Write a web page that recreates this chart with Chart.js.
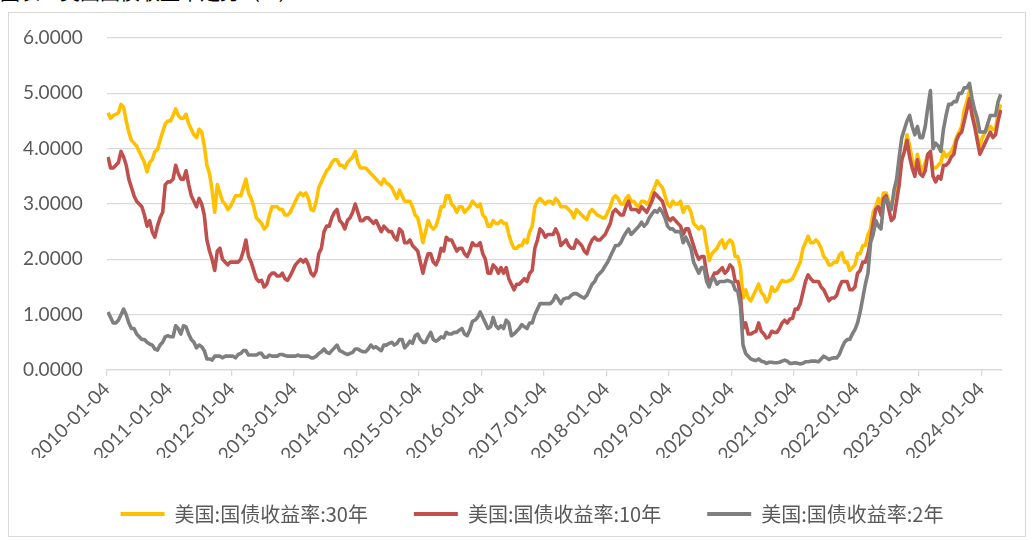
<!DOCTYPE html>
<html>
<head>
<meta charset="utf-8">
<script src="https://cdn.jsdelivr.net/npm/chart.js@4.4.1/dist/chart.umd.min.js"></script>
<style>
  html, body { margin: 0; padding: 0; background: #ffffff; overflow: hidden; }
  #wrap { position: relative; width: 1032px; height: 540px; overflow: hidden; }
  #frame { position: absolute; left: 8px; top: 12px; width: 1018px; height: 525px; border: 1px solid #D9D9D9; box-sizing: border-box; }
  #cut { position: absolute; left: 0px; top: -23px; font: 20px "Noto Sans CJK SC"; color: #000; white-space: nowrap; }
  #c { position: absolute; left: 0; top: 0; }
</style>
</head>
<body>
<div id="wrap">
  <div id="cut">图表：美国国债收益率走势（%）</div>
  <div id="frame"></div>
  <canvas id="c" width="1064" height="540"></canvas>
</div>
<script>
// Year tick labels (one per year, first trading day)
const yearLabels = ['2010-01-04','2011-01-04','2012-01-04','2013-01-04','2014-01-04','2015-01-04','2016-01-04',
  '2017-01-04','2018-01-04','2019-01-04','2020-01-04','2021-01-04','2022-01-04','2023-01-04','2024-01-04'];

const seriesNames = ['美国:国债收益率:30年', '美国:国债收益率:10年', '美国:国债收益率:2年'];

// Semi-monthly readings, Jan 2010 .. Apr 2024 (two values per month)
const yield30 = [
  4.65,4.55,4.6,4.62,4.65,4.8,4.75,4.5,4.3,4.15,4.1,4.05,3.95,3.85,3.75,3.58,3.75,3.8,3.95,3.98,4.15,4.3,4.45,4.5,
  4.5,4.6,4.72,4.6,4.55,4.55,4.62,4.45,4.35,4.25,4.2,4.35,4.3,4.05,3.7,3.55,3.25,2.85,3.35,3.2,3.05,3.0,2.9,2.95,
  3.05,3.15,3.15,3.15,3.3,3.45,3.2,3.1,2.95,2.75,2.7,2.65,2.55,2.6,2.8,2.95,2.95,2.95,2.9,2.9,2.8,2.8,2.85,2.95,
  3.05,3.15,3.2,3.15,3.2,3.1,2.9,2.88,3.05,3.3,3.4,3.5,3.6,3.65,3.75,3.8,3.8,3.7,3.7,3.65,3.75,3.8,3.85,3.95,
  3.75,3.65,3.65,3.65,3.6,3.55,3.5,3.45,3.4,3.35,3.45,3.38,3.35,3.3,3.2,3.1,3.25,3.15,3.05,3.05,3.05,2.95,2.8,2.75,
  2.55,2.3,2.5,2.7,2.6,2.55,2.6,2.75,2.95,2.95,3.15,3.15,3.0,2.95,2.85,2.95,2.95,2.85,2.9,2.95,3.05,3.0,2.95,3.0,
  2.8,2.75,2.6,2.6,2.7,2.65,2.65,2.7,2.65,2.65,2.45,2.3,2.2,2.2,2.25,2.25,2.35,2.3,2.5,2.6,2.95,3.05,3.1,3.05,
  3.0,3.05,3.05,3.0,3.1,3.05,2.95,2.95,2.95,2.9,2.85,2.75,2.9,2.85,2.8,2.75,2.72,2.85,2.9,2.85,2.8,2.78,2.75,2.75,
  2.85,2.95,3.1,3.15,3.1,3.0,3.0,3.1,3.15,3.05,3.05,2.98,2.95,3.05,3.05,3.0,3.05,3.2,3.3,3.42,3.35,3.3,3.15,3.0,
  2.95,3.05,3.0,3.0,3.05,2.85,2.95,2.95,2.85,2.65,2.6,2.55,2.6,2.55,2.25,1.98,2.1,2.15,2.2,2.3,2.35,2.2,2.3,2.35,
  2.3,2.05,2.05,1.85,1.3,1.45,1.3,1.25,1.35,1.45,1.55,1.4,1.35,1.23,1.3,1.5,1.42,1.45,1.55,1.62,1.6,1.6,1.62,1.65,
  1.75,1.85,1.95,2.2,2.3,2.42,2.3,2.3,2.35,2.3,2.2,2.05,2.0,1.9,1.9,1.95,1.95,2.08,2.12,1.95,1.95,1.8,1.85,1.9,
  2.1,2.1,2.25,2.25,2.45,2.55,2.85,2.95,3.1,3.0,3.2,3.2,3.05,3.0,3.15,3.25,3.5,3.8,3.95,4.25,4.05,3.8,3.6,3.9,
  3.7,3.6,3.75,3.9,3.9,3.65,3.65,3.7,3.75,3.95,3.85,3.9,3.95,4.05,4.2,4.3,4.4,4.7,4.85,5.05,4.65,4.5,4.2,4.05,
  4.2,4.3,4.35,4.4,4.35,4.35,4.65,4.8
];

const yield10 = [
  3.85,3.65,3.65,3.7,3.75,3.95,3.85,3.7,3.45,3.3,3.15,3.05,3.0,2.95,2.8,2.6,2.7,2.5,2.4,2.6,2.75,2.85,3.35,3.4,
  3.4,3.45,3.7,3.55,3.45,3.45,3.6,3.35,3.15,3.05,2.95,3.1,3.0,2.8,2.35,2.15,2.0,1.8,2.15,2.2,2.0,1.95,1.9,1.95,
  1.95,1.95,1.95,2.0,2.15,2.35,2.05,1.95,1.8,1.65,1.6,1.62,1.5,1.55,1.7,1.75,1.75,1.7,1.7,1.75,1.65,1.62,1.7,1.8,
  1.9,1.95,2.0,1.95,2.0,1.9,1.75,1.7,1.8,2.1,2.2,2.5,2.6,2.6,2.75,2.85,2.9,2.7,2.65,2.55,2.7,2.75,2.85,3.0,
  2.85,2.7,2.7,2.75,2.75,2.7,2.65,2.7,2.6,2.5,2.6,2.55,2.5,2.5,2.4,2.35,2.55,2.5,2.3,2.3,2.35,2.25,2.2,2.15,
  1.95,1.75,1.95,2.1,2.1,1.95,1.9,2.0,2.2,2.15,2.4,2.35,2.35,2.25,2.15,2.2,2.2,2.1,2.05,2.15,2.3,2.25,2.25,2.3,
  2.1,2.0,1.75,1.75,1.9,1.85,1.75,1.85,1.75,1.85,1.65,1.55,1.45,1.55,1.55,1.6,1.65,1.6,1.75,1.8,2.2,2.35,2.55,2.5,
  2.4,2.45,2.45,2.45,2.55,2.45,2.25,2.3,2.35,2.25,2.2,2.2,2.35,2.3,2.25,2.15,2.1,2.25,2.35,2.4,2.35,2.35,2.4,2.45,
  2.55,2.65,2.85,2.9,2.85,2.8,2.8,2.95,3.05,2.9,2.9,2.9,2.85,2.95,2.9,2.85,2.95,3.05,3.2,3.15,3.1,3.05,2.9,2.75,
  2.7,2.75,2.7,2.65,2.6,2.45,2.55,2.55,2.4,2.25,2.1,2.0,2.05,2.05,1.75,1.55,1.65,1.75,1.75,1.8,1.85,1.75,1.8,1.9,
  1.85,1.6,1.6,1.35,0.75,0.85,0.65,0.65,0.68,0.7,0.85,0.7,0.65,0.58,0.6,0.7,0.68,0.68,0.75,0.85,0.9,0.85,0.92,0.93,
  1.1,1.1,1.2,1.4,1.6,1.72,1.65,1.6,1.6,1.6,1.5,1.45,1.35,1.25,1.3,1.3,1.35,1.5,1.6,1.6,1.6,1.45,1.45,1.5,
  1.75,1.8,1.95,1.95,2.1,2.35,2.65,2.9,2.95,2.8,3.1,3.15,2.9,2.7,2.75,3.05,3.35,3.8,3.95,4.15,3.85,3.65,3.5,3.8,
  3.55,3.5,3.6,3.9,3.95,3.5,3.4,3.5,3.45,3.7,3.7,3.75,3.85,3.9,4.15,4.25,4.3,4.5,4.7,4.9,4.6,4.4,4.15,3.9,
  4.0,4.1,4.2,4.3,4.2,4.25,4.5,4.7
];

const yield2 = [
  1.05,0.95,0.85,0.85,0.9,1.0,1.1,1.0,0.85,0.75,0.75,0.65,0.6,0.55,0.55,0.5,0.47,0.45,0.38,0.36,0.45,0.5,0.6,0.62,
  0.6,0.6,0.8,0.75,0.65,0.8,0.78,0.65,0.55,0.5,0.4,0.45,0.42,0.35,0.2,0.2,0.18,0.25,0.25,0.25,0.22,0.25,0.25,0.25,
  0.25,0.22,0.28,0.3,0.35,0.35,0.27,0.27,0.27,0.27,0.3,0.3,0.23,0.23,0.27,0.25,0.25,0.25,0.28,0.28,0.26,0.25,0.25,0.25,
  0.25,0.27,0.25,0.25,0.25,0.25,0.22,0.22,0.25,0.3,0.33,0.38,0.32,0.3,0.35,0.4,0.45,0.35,0.33,0.3,0.28,0.3,0.32,0.38,
  0.38,0.35,0.33,0.33,0.38,0.45,0.4,0.42,0.38,0.35,0.45,0.45,0.48,0.5,0.45,0.48,0.55,0.55,0.4,0.45,0.52,0.48,0.62,0.65,
  0.55,0.5,0.5,0.6,0.68,0.55,0.52,0.55,0.6,0.58,0.68,0.65,0.65,0.68,0.68,0.72,0.75,0.65,0.62,0.72,0.88,0.9,0.95,1.05,
  0.95,0.85,0.75,0.78,0.95,0.8,0.75,0.8,0.75,0.9,0.85,0.62,0.65,0.7,0.75,0.82,0.78,0.75,0.85,0.85,1.0,1.1,1.2,1.2,
  1.2,1.2,1.2,1.25,1.35,1.28,1.2,1.28,1.3,1.3,1.35,1.38,1.38,1.35,1.32,1.3,1.35,1.45,1.55,1.6,1.7,1.75,1.8,1.88,
  1.95,2.05,2.15,2.25,2.25,2.3,2.4,2.48,2.55,2.45,2.5,2.55,2.6,2.67,2.6,2.65,2.75,2.82,2.88,2.85,2.92,2.85,2.75,2.6,
  2.55,2.55,2.5,2.5,2.5,2.3,2.4,2.3,2.2,1.95,1.85,1.75,1.85,1.85,1.6,1.5,1.65,1.65,1.55,1.6,1.6,1.6,1.62,1.6,
  1.58,1.45,1.42,1.15,0.45,0.3,0.25,0.2,0.18,0.17,0.2,0.16,0.15,0.12,0.14,0.14,0.13,0.13,0.14,0.16,0.18,0.16,0.12,0.12,
  0.13,0.12,0.11,0.12,0.15,0.15,0.16,0.16,0.16,0.15,0.2,0.25,0.22,0.19,0.21,0.22,0.22,0.28,0.4,0.5,0.55,0.55,0.65,0.73,
  0.85,1.05,1.3,1.55,1.75,2.3,2.45,2.7,2.6,2.55,3.0,3.1,3.0,2.9,3.25,3.45,3.85,4.2,4.35,4.5,4.6,4.4,4.25,4.4,
  4.2,4.2,4.4,4.75,5.05,4.0,4.1,4.05,3.95,4.35,4.6,4.8,4.8,4.85,4.85,5.0,5.0,5.1,5.1,5.18,4.9,4.7,4.55,4.3,
  4.3,4.3,4.45,4.6,4.6,4.6,4.85,4.98
];

const seriesColors = ['#FFC000', '#C0504D', '#7F7F7F'];

// position of each half-month reading on the month axis
const toPoints = arr => arr.map((v, i) => ({ x: (i + 0.5) / 2, y: v }));

const tickFont = { family: 'Lato', size: 19 };
const axisGray = '#D9D9D9';
const textGray = '#595959';

function makeSet(i, data, order) {
  return {
    label: seriesNames[i],
    data: toPoints(data),
    borderColor: seriesColors[i],
    backgroundColor: seriesColors[i],
    borderWidth: 3.6,
    pointRadius: 0,
    tension: 0,
    borderJoinStyle: 'round',
    order: order,
    yAxisID: 'y'
  };
}

new Chart(document.getElementById('c'), {
  type: 'line',
  data: {
    datasets: [ makeSet(0, yield30, 3), makeSet(1, yield10, 2), makeSet(2, yield2, 1) ]
  },
  options: {
    responsive: false,
    animation: false,
    devicePixelRatio: 1,
    layout: { padding: { left: 12, right: 12, top: 38, bottom: 6 } },
    scales: {
      x: {
        type: 'linear',
        min: 0,
        max: 172,
        afterFit: s => { s.height = 88; },
        grid: { display: true, drawOnChartArea: false, drawTicks: true, tickLength: 6, color: axisGray, lineWidth: 1.3 },
        border: { display: true, color: axisGray, width: 1.3 },
        ticks: {
          stepSize: 12,
          includeBounds: false,
          autoSkip: false,
          maxRotation: 45,
          minRotation: 45,
          padding: 2,
          color: textGray,
          font: tickFont,
          callback: v => yearLabels[v / 12] ?? ''
        }
      },
      y: {
        position: 'left',
        min: 0,
        max: 6,
        afterFit: s => { s.width = 94.7; },
        grid: { color: axisGray, lineWidth: 1.3, drawTicks: false },
        border: { display: false },
        ticks: {
          stepSize: 1,
          padding: 24,
          color: textGray,
          font: tickFont,
          callback: v => Number(v).toFixed(4)
        }
      },
      yRight: {
        position: 'right',
        min: 0,
        max: 6,
        afterFit: s => { s.width = 50; },
        grid: { display: false, drawTicks: false },
        border: { display: false },
        ticks: { display: false }
      }
    },
    plugins: {
      tooltip: { enabled: false },
      legend: {
        position: 'bottom',
        labels: {
          boxWidth: 44,
          boxHeight: 4,
          padding: 46,
          color: textGray,
          font: { family: '"Noto Sans CJK SC"', size: 20 },
          sort: (a, b) => a.datasetIndex - b.datasetIndex,
          generateLabels: chart => Chart.defaults.plugins.legend.labels.generateLabels(chart).map(l => ({ ...l, lineWidth: 0 }))
        }
      }
    }
  }
});
</script>
</body>
</html>
